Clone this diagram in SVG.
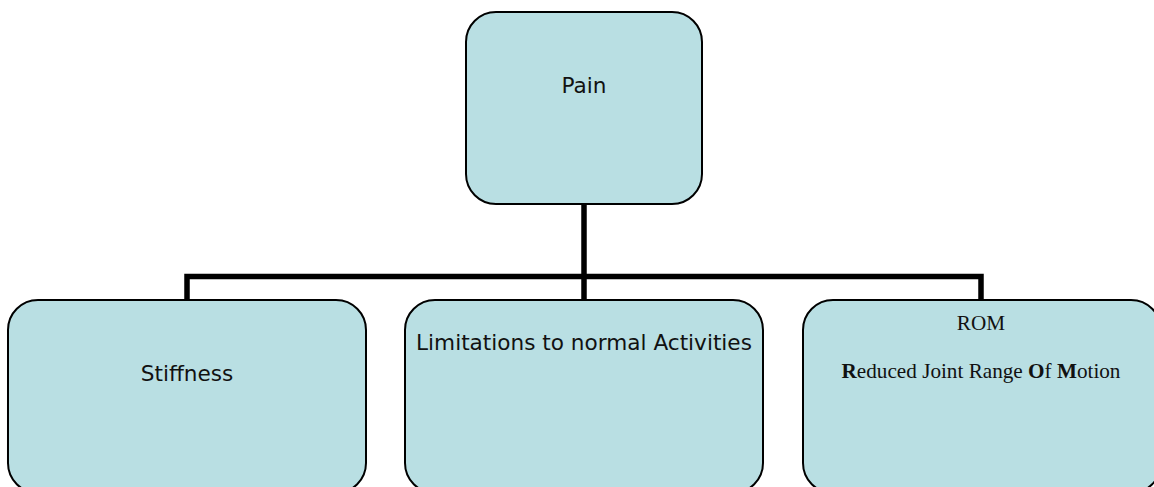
<svg xmlns="http://www.w3.org/2000/svg" width="1154" height="487" viewBox="0 0 1154 487">
<style>
.box{fill:#B9DFE3;stroke:#000;stroke-width:2}
.sans{font-family:"DejaVu Sans",Verdana,sans-serif;font-size:21.6px;fill:#111;text-anchor:middle}
.serif{font-family:"Liberation Serif","Times New Roman",serif;font-size:21.2px;fill:#111;text-anchor:middle}
.conn{fill:none;stroke:#000;stroke-width:5.5;stroke-linejoin:miter}
</style>
<rect width="1154" height="487" fill="#fff"/>
<g id="connectors">
<path class="conn" d="M584,204 V300"/>
<path class="conn" d="M187,300 V276.5 H981 V300"/>
</g>
<g id="pain">
<rect class="box" x="466" y="12" width="236" height="192" rx="30" ry="30"/>
<text class="sans" x="584" y="93">Pain</text>
</g>
<g id="stiffness">
<rect class="box" x="8" y="300" width="358" height="193" rx="30" ry="30"/>
<text class="sans" x="187" y="381">Stiffness</text>
</g>
<g id="limitations">
<rect class="box" x="405" y="300" width="358" height="193" rx="30" ry="30"/>
<text class="sans" x="584" y="350">Limitations to normal Activities</text>
</g>
<g id="rom">
<rect class="box" x="803" y="300" width="358" height="193" rx="30" ry="30"/>
<text class="serif" x="981" y="330">ROM</text>
<text class="serif" x="981" y="378"><tspan font-weight="bold">R</tspan>educed Joint Range <tspan font-weight="bold">O</tspan>f <tspan font-weight="bold">M</tspan>otion</text>
</g>
</svg>
